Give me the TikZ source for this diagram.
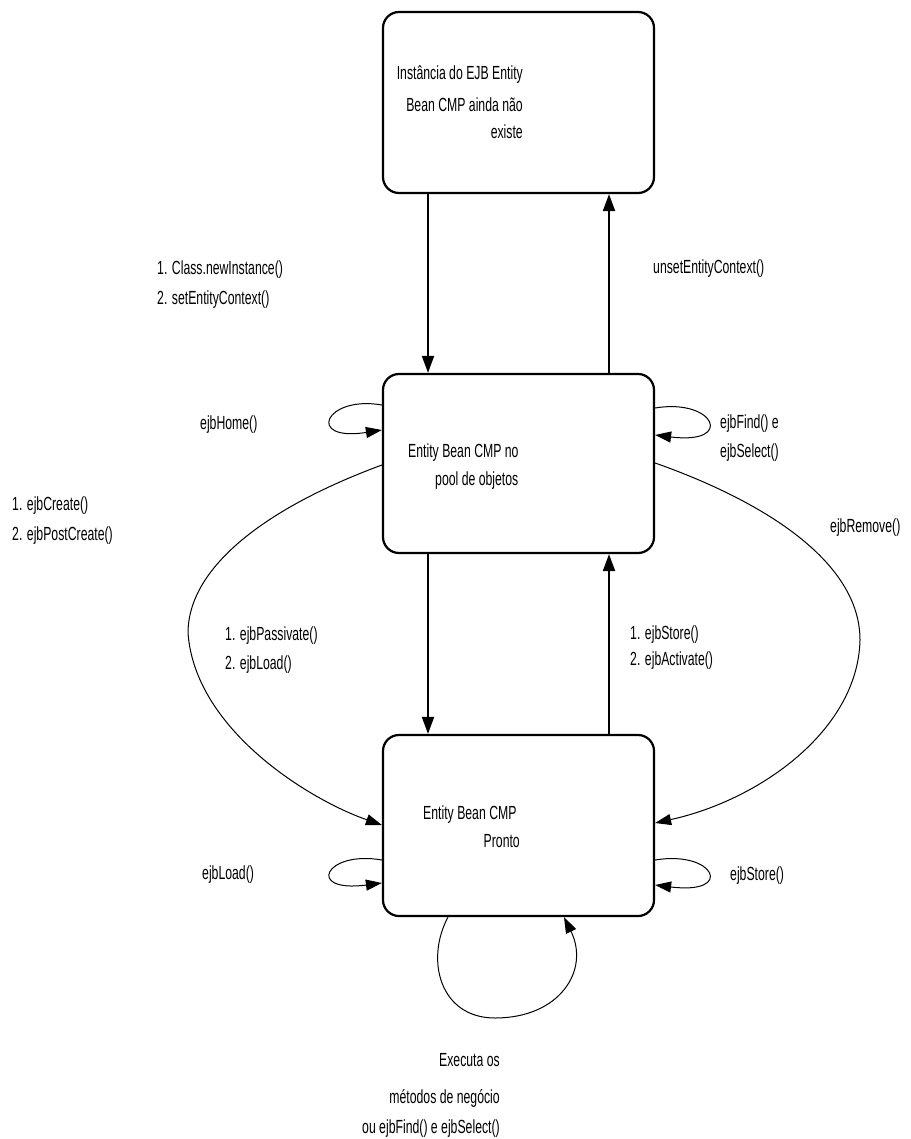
\documentclass[tikz,border=0pt]{standalone}
\usepackage{fontspec}
\setmainfont[FakeStretch=0.645]{Liberation Sans}
\usetikzlibrary{arrows.meta}
\begin{document}
\begin{tikzpicture}[x=1pt,y=-1pt,
  state/.style={draw,line width=2.2pt,rounded corners=16pt,minimum width=271pt,inner sep=0pt},
  main/.style={line width=2pt,-{Triangle[length=17pt,width=12pt]}},
  thinarrow/.style={line width=1pt,-{Triangle[length=16pt,width=11pt]}},
  lbl/.style={font=\fontsize{19}{22}\selectfont,inner sep=0pt}]
\useasboundingbox (0,0) rectangle (910,1139);
% states
\node[state,minimum height=181pt] (top) at (518.5,102.5) {};
\node[state,minimum height=179pt] (mid) at (518.5,463.5) {};
\node[state,minimum height=181pt] (bot) at (518.5,825.5) {};
% state texts
\node[lbl,anchor=base east] (t1) at (523,80) {Instância do EJB Entity};
\node[lbl,anchor=base east] (t2) at (523,112) {Bean CMP ainda não};
\node[lbl,anchor=base east] (t3) at (523,139) {existe};
\node[lbl,anchor=base west] (m1) at (408,457) {Entity Bean CMP no};
\node[lbl,anchor=base west] (m2) at (435,485) {pool de objetos};
\node[lbl,anchor=base west] (b1) at (423,819) {Entity Bean CMP};
\node[lbl,anchor=base east] (b2) at (520,847) {Pronto};
% main transitions
\draw[main] ([xshift=-90.5pt]top.south) -- ([xshift=-90.5pt]mid.north);
\draw[main] ([xshift=90.5pt]mid.north) -- ([xshift=90.5pt]top.south);
\draw[main] ([xshift=-90.5pt]mid.south) -- ([xshift=-90.5pt]bot.north);
\draw[main] ([xshift=90.5pt]bot.north) -- ([xshift=90.5pt]mid.south);
% self loops and curves
\draw[thinarrow] ([yshift=58.5pt]mid.west) .. controls (325,395) and (305,442) .. ([yshift=33.5pt]mid.west);
\draw[thinarrow] ([yshift=55.5pt]mid.east) .. controls (715,398) and (735,445) .. ([yshift=28.5pt]mid.east);
\draw[thinarrow] ([yshift=-1.5pt]mid.west) .. controls (260,510) and (188,570) .. (188,633) .. controls (195,730) and (310,800) .. ([yshift=0.5pt]bot.west);
\draw[thinarrow] ([yshift=0.5pt]mid.east) .. controls (760,500) and (860,560) .. (860,640) .. controls (858,730) and (760,800) .. ([yshift=2.5pt]bot.east);
\draw[thinarrow] ([yshift=-34.5pt]bot.west) .. controls (325,850) and (305,893) .. ([yshift=-57.5pt]bot.west);
\draw[thinarrow] ([yshift=-34.5pt]bot.east) .. controls (715,850) and (735,895) .. ([yshift=-59.5pt]bot.east);
\draw[thinarrow] ([xshift=-70.5pt]bot.south) .. controls (425,960) and (440,1018) .. (495,1018) .. controls (560,1018) and (590,970) .. ([xshift=45.5pt]bot.south);
% labels
\node[lbl,anchor=base west] (l1) at (157,275) {1. Class.newInstance()};
\node[lbl,anchor=base west] (l2) at (157,305) {2. setEntityContext()};
\node[lbl,anchor=base west] (l3) at (653,274) {unsetEntityContext()};
\node[lbl,anchor=base west] (l4) at (200,429) {ejbHome()};
\node[lbl,anchor=base west] (l5) at (720,428) {ejbFind() e};
\node[lbl,anchor=base west] (l6) at (720,457) {ejbSelect()};
\node[lbl,anchor=base west] (l7) at (12,510) {1. ejbCreate()};
\node[lbl,anchor=base west] (l8) at (12,540) {2. ejbPostCreate()};
\node[lbl,anchor=base west] (l9) at (830,532) {ejbRemove()};
\node[lbl,anchor=base west] (l10) at (225,640) {1. ejbPassivate()};
\node[lbl,anchor=base west] (l11) at (225,669) {2. ejbLoad()};
\node[lbl,anchor=base west] (l12) at (630,639) {1. ejbStore()};
\node[lbl,anchor=base west] (l13) at (630,665) {2. ejbActivate()};
\node[lbl,anchor=base west] (l14) at (202,879) {ejbLoad()};
\node[lbl,anchor=base west] (l15) at (730,880) {ejbStore()};
\node[lbl,anchor=base east] (l16) at (500,1066) {Executa os};
\node[lbl,anchor=base east] (l17) at (500,1103) {métodos de negócio};
\node[lbl,anchor=base east] (l18) at (500,1133) {ou ejbFind() e ejbSelect()};
\end{tikzpicture}
\end{document}
